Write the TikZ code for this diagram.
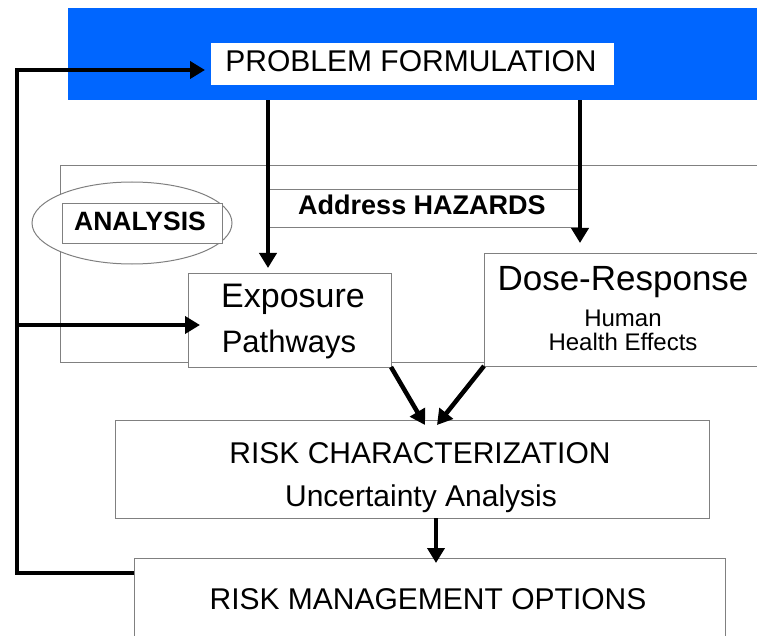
\documentclass[tikz,border=0pt]{standalone}
\usepackage{fontspec}
\setmainfont{Liberation Sans}
\usetikzlibrary{arrows.meta,shapes.geometric}
\definecolor{bandblue}{RGB}{0,102,255}
\definecolor{rim}{RGB}{128,128,128}
\newcommand{\fs}[1]{\fontsize{#1}{#1}\selectfont}
\tikzset{
	box/.style={draw=rim, line width=1pt, fill=white, inner sep=0pt, outer sep=0pt},
	txt/.style={anchor=base, inner sep=0pt},
	flow/.style={line width=4.5pt, -{Triangle[length=15pt,width=17pt]}},
}

\begin{document}
\begin{tikzpicture}[x=1pt,y=-1pt]
	\useasboundingbox (0,0) rectangle (757,636);
%
	\node[fill=bandblue, inner sep=0pt, minimum width=689pt, minimum height=92pt] (band) at (412.5,54) {};
	\node[box, draw=none, minimum width=403pt, minimum height=42pt] (pfbox) at (412.5,64) {};
		\node[txt] (pf) at (411,72) {\fs{30}PROBLEM FORMULATION};
%
	\node[box, fill=none, minimum width=700pt, minimum height=196pt] (frame) at (410,264) {};
	\node[box, fill=none, minimum width=312pt, minimum height=38pt] (addr) at (424,209) {};
		\node[txt] (hazards) at (422,215) {\fs{27}\bfseries Address HAZARDS};
	\node[box, ellipse, minimum width=200pt, minimum height=82pt] (ring) at (132,223) {};
	\node[box, minimum width=160pt, minimum height=40pt] (anabox) at (142,224) {};
		\node[txt] (analysis) at (140,231) {\fs{26.5}\bfseries ANALYSIS};
%
	\node[box, minimum width=203pt, minimum height=94pt] (expo) at (289.5,320) {};
		\node[txt] (expoa) at (293,307) {\fs{34}Exposure};
		\node[txt] (expob) at (289,352) {\fs{31}Pathways};
	\node[box, minimum width=281pt, minimum height=112pt] (dose) at (624.5,310) {};
		\node[txt] (dosea) at (623,290) {\fs{35}Dose-Response};
		\node[txt] (doseb) at (623,326) {\fs{24}Human};
		\node[txt] (dosec) at (623,350) {\fs{24}Health Effects};
%
	\node[box, minimum width=594pt, minimum height=98pt] (rc) at (412,469) {};
		\node[txt] (rca) at (420,463) {\fs{30}RISK CHARACTERIZATION};
		\node[txt] (rcb) at (421,506) {\fs{30}Uncertainty Analysis};
	\node[box, minimum width=591pt, minimum height=92pt] (rmo) at (429.5,604) {};
		\node[txt] (rmoa) at (428,609) {\fs{30}RISK MANAGEMENT OPTIONS};
%
	\draw[flow, shorten >=5pt] (band.south -| addr.west) -- (addr.west |- expo.north);
	\draw[flow, shorten >=11pt] (band.south -| addr.east) -- (addr.east |- dose.north);
	\draw[flow] (expo.south east) -- ([xshift=13pt,yshift=-5pt]rc.north);
	\draw[flow] (dose.south west) -- ([xshift=25pt,yshift=-5pt]rc.north);
	\draw[flow, shorten >=-5pt] ([xshift=24pt]rc.south) -- ([xshift=24pt]rc.south |- rmo.north);
%
	\coordinate (turn) at (17,70);
	\coordinate (fork) at (17,325);
	\draw[flow, shorten >=6pt] ([yshift=31pt]rmo.west) -| (turn) -- ([yshift=-6pt]pfbox.west);
	\draw[flow] (fork) -- ([xshift=12pt]expo.west |- fork);
\end{tikzpicture}
\end{document}
